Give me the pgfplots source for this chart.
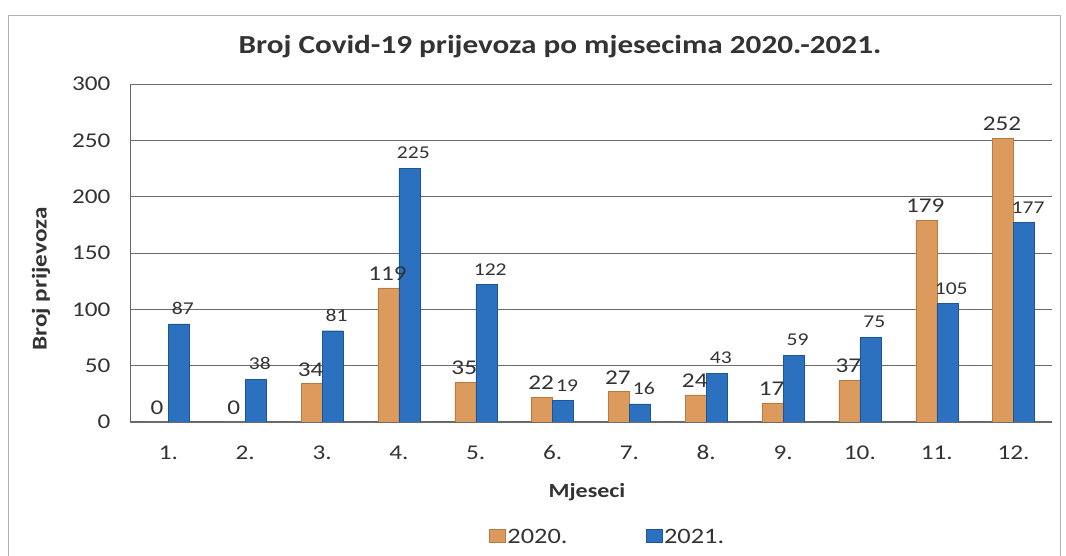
\documentclass[border=0pt]{standalone}
\usepackage{pgfplots}
\pgfplotsset{compat=1.18}
\usepackage{fontspec}
\setmainfont[FakeStretch=1.2]{Carlito}
\definecolor{orF}{HTML}{DC9A5C}
\definecolor{orE}{HTML}{B97A40}
\definecolor{blF}{HTML}{2C70C0}
\definecolor{blE}{HTML}{1D5597}
\definecolor{txt}{HTML}{333333}
\begin{document}
\begin{tikzpicture}[x=1pt,y=1pt]
\useasboundingbox (0,0) rectangle (1066,556);
\draw[gray!60, line width=0.8pt] (8,0) -- (8,541) -- (1060,541) -- (1060,0);
\node[font=\fontsize{26}{30}\selectfont\bfseries, text=txt] at (560,509) {Broj Covid-19 prijevoza po mjesecima 2020.-2021.};
\node[font=\fontsize{21}{25}\selectfont\bfseries, text=txt, rotate=90] at (41,277) {Broj prijevoza};
\node[font=\fontsize{20}{24}\selectfont\bfseries, text=txt] at (587,64) {Mjeseci};
\begin{axis}[
    at={(130pt,134pt)}, anchor=south west,
    scale only axis,
    width=922pt, height=338pt,
    ybar=0pt, bar width=21pt,
    xmin=-0.5, xmax=11.5,
    ymin=0, ymax=300,
    ytick={0,50,100,150,200,250,300},
    xtick={0,...,11},
    xticklabels={1.,2.,3.,4.,5.,6.,7.,8.,9.,10.,11.,12.},
    major tick length=0pt,
    axis x line*=bottom, axis y line*=left,
    axis line style={gray!80!black, line width=1pt},
    ymajorgrids, grid style={gray!85!black, line width=0.9pt},
    ticklabel style={font=\fontsize{21}{25}\selectfont, text=txt},
    /pgf/number format/assume math mode=true,
    xticklabel style={yshift=-20pt},
    yticklabel style={xshift=-16pt},
    nodes near coords,
    legend columns=2,
    legend style={at={(0.518,-0.340)}, anchor=center, draw=none, fill=none,
        font=\fontsize{22}{26}\selectfont, text=txt,
        /tikz/every even column/.append style={column sep=76pt}},
    legend image code/.code={\fill[#1] (0pt,-5pt) rectangle (16pt,8pt);},
]
\addplot[draw=orE, line width=0.4pt, fill=orF,
    nodes near coords style={font=\fontsize{21}{25}\selectfont, text=txt, yshift=4pt, xshift=-1pt}]
coordinates {(0,0) (1,0) (2,34) (3,119) (4,35) (5,22) (6,27) (7,24) (8,17) (9,37) (10,179) (11,252)};
\addlegendentry{2020.}
\addplot[draw=blE, line width=0.4pt, fill=blF,
    nodes near coords style={font=\fontsize{18}{21}\selectfont, text=txt, yshift=6pt, xshift=4pt}]
coordinates {(0,87) (1,38) (2,81) (3,225) (4,122) (5,19) (6,16) (7,43) (8,59) (9,75) (10,105) (11,177)};
\addlegendentry{2021.}
\end{axis}
\end{tikzpicture}
\end{document}
